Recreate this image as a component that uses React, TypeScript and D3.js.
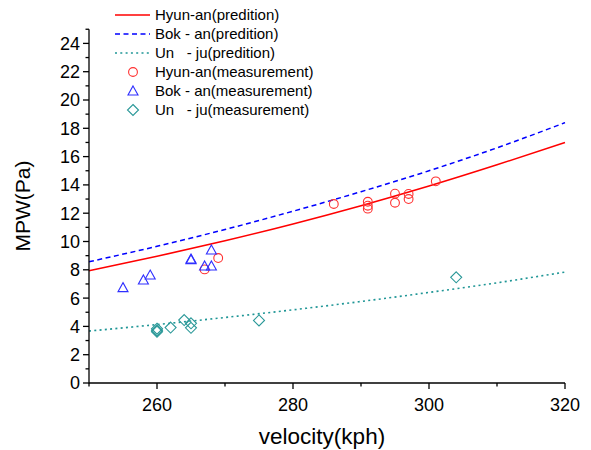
import React from 'react'
import * as d3 from 'd3'

// prediction curves at 10 kph steps
const predV = [250, 260, 270, 280, 290, 300, 310, 320]
const hyunPred = [7.93, 8.95, 10.05, 11.24, 12.53, 13.92, 15.42, 17.0]
const bokPred = [8.57, 9.66, 10.85, 12.14, 13.52, 15.0, 16.62, 18.4]
const unPred = [3.67, 4.13, 4.63, 5.17, 5.76, 6.4, 7.08, 7.84]

// measurements [velocity, MPW]
const hyunMeas = [
  [267, 8.03], [269, 8.83], [286, 12.65], [291, 12.81], [291, 12.53], [291, 12.32],
  [295, 13.38], [295, 12.74], [297, 13.36], [297, 13.0], [301, 14.25],
]
const bokMeas = [
  [255, 6.74], [258, 7.28], [259, 7.63], [265, 8.76], [265, 8.72],
  [267, 8.27], [268, 8.27], [268, 9.4],
]
const unMeas = [
  [260, 3.84], [260, 3.63], [260, 3.72], [262, 3.92], [264, 4.45], [265, 4.22],
  [265, 3.9], [275, 4.42], [304, 7.47],
]

const legendItems = [
  { label: 'Hyun-an(predition)', kind: 'solid' },
  { label: 'Bok - an(predition)', kind: 'dash' },
  { label: 'Un   - ju(predition)', kind: 'dot' },
  { label: 'Hyun-an(measurement)', kind: 'circle' },
  { label: 'Bok - an(measurement)', kind: 'tri' },
  { label: 'Un   - ju(measurement)', kind: 'diamond' },
]

const RED = '#ff0000'
const BLUE = '#0000ff'
const TEAL = '#1f9696'
const RED_M = '#ff3030'
const BLUE_M = '#2f2fff'
const TEAL_M = '#2a9898'
const FONT = 'Liberation Sans, Arial, sans-serif'

const triPath = (cx, cy) => `M${cx},${cy - 5}L${cx + 5},${cy + 4}L${cx - 5},${cy + 4}Z`
const diaPath = (cx, cy) => `M${cx},${cy - 5.5}L${cx + 5.5},${cy}L${cx},${cy + 5.5}L${cx - 5.5},${cy}Z`

export default function App() {
  const x = d3.scaleLinear().domain([250, 320]).range([89, 565])
  const y = d3.scaleLinear().domain([0, 25]).range([383, 29.25])

  const line = (vals) => d3.line().curve(d3.curveMonotoneX)
    .x((d, i) => x(predV[i]))
    .y(d => y(d))(vals)

  const yMajor = d3.range(0, 25, 2)
  const yMinor = d3.range(1, 26, 2)
  const xMajor = [260, 280, 300, 320]
  const xMinor = [250, 270, 290, 310]

  return <svg width={591} height={450} style={{ position: 'absolute', left: 0, top: 0, background: 'white' }}
              fontFamily={FONT}>
    {/* prediction curves */}
    <path d={line(hyunPred)} fill="none" stroke={RED} strokeWidth={1.5} />
    <path d={line(bokPred)} fill="none" stroke={BLUE} strokeWidth={1.5} strokeDasharray="5,3.5" />
    <path d={line(unPred)} fill="none" stroke={TEAL} strokeWidth={1.6} strokeDasharray="2,3.3" />

    {/* measurements */}
    {hyunMeas.map(([v, p], i) =>
      <circle key={'h' + i} cx={x(v)} cy={y(p)} r={4.4} fill="none" stroke={RED_M} strokeWidth={1.1} />)}
    {bokMeas.map(([v, p], i) =>
      <path key={'b' + i} d={triPath(x(v), y(p))} fill="none" stroke={BLUE_M} strokeWidth={1.1} />)}
    {unMeas.map(([v, p], i) =>
      <path key={'u' + i} d={diaPath(x(v), y(p))} fill="none" stroke={TEAL_M} strokeWidth={1.1} />)}

    {/* axes */}
    <g stroke="black" strokeWidth={1.3}>
      <line x1={x(250)} x2={x(250)} y1={y(0) + 0.6} y2={y(25)} />
      <line x1={x(250)} x2={x(320)} y1={y(0)} y2={y(0)} />
      {yMajor.map(t => <line key={'ym' + t} x1={x(250) - 6} x2={x(250)} y1={y(t)} y2={y(t)} />)}
      {yMinor.map(t => <line key={'yn' + t} x1={x(250) - 3.5} x2={x(250)} y1={y(t)} y2={y(t)} />)}
      {xMajor.map(t => <line key={'xm' + t} x1={x(t)} x2={x(t)} y1={y(0)} y2={y(0) + 6} />)}
      {xMinor.map(t => <line key={'xn' + t} x1={x(t)} x2={x(t)} y1={y(0)} y2={y(0) + 3.5} />)}
    </g>
    {yMajor.map(t => <text key={'yl' + t} x={x(250) - 9} y={y(t)} dy="0.36em" textAnchor="end"
                           fontSize={18}>{t}</text>)}
    {xMajor.map(t => <text key={'xl' + t} x={x(t)} y={411} textAnchor="middle" fontSize={18}>{t}</text>)}

    <text x={322} y={444} textAnchor="middle" fontSize={22.5}>velocity(kph)</text>
    <text transform={`translate(30,206) rotate(-90)`} textAnchor="middle" fontSize={21}>MPW(Pa)</text>

    {/* legend */}
    {legendItems.map((it, i) => {
      const ly = 15 + i * 19
      let sym = null
      if (it.kind === 'solid') sym = <line x1={115} x2={150} y1={ly} y2={ly} stroke={RED} strokeWidth={1.5} />
      if (it.kind === 'dash') sym = <line x1={115} x2={150} y1={ly} y2={ly} stroke={BLUE} strokeWidth={1.5} strokeDasharray="5,3.5" />
      if (it.kind === 'dot') sym = <line x1={115} x2={150} y1={ly} y2={ly} stroke={TEAL} strokeWidth={1.6} strokeDasharray="2,3.3" />
      if (it.kind === 'circle') sym = <circle cx={133} cy={ly} r={4.4} fill="none" stroke={RED_M} strokeWidth={1.1} />
      if (it.kind === 'tri') sym = <path d={triPath(133, ly)} fill="none" stroke={BLUE_M} strokeWidth={1.1} />
      if (it.kind === 'diamond') sym = <path d={diaPath(133, ly)} fill="none" stroke={TEAL_M} strokeWidth={1.1} />
      return <g key={it.label}>
        {sym}
        <text x={155} y={ly} dy="0.36em" fontSize={15} style={{ whiteSpace: 'pre' }}>{it.label}</text>
      </g>
    })}
  </svg>
}
